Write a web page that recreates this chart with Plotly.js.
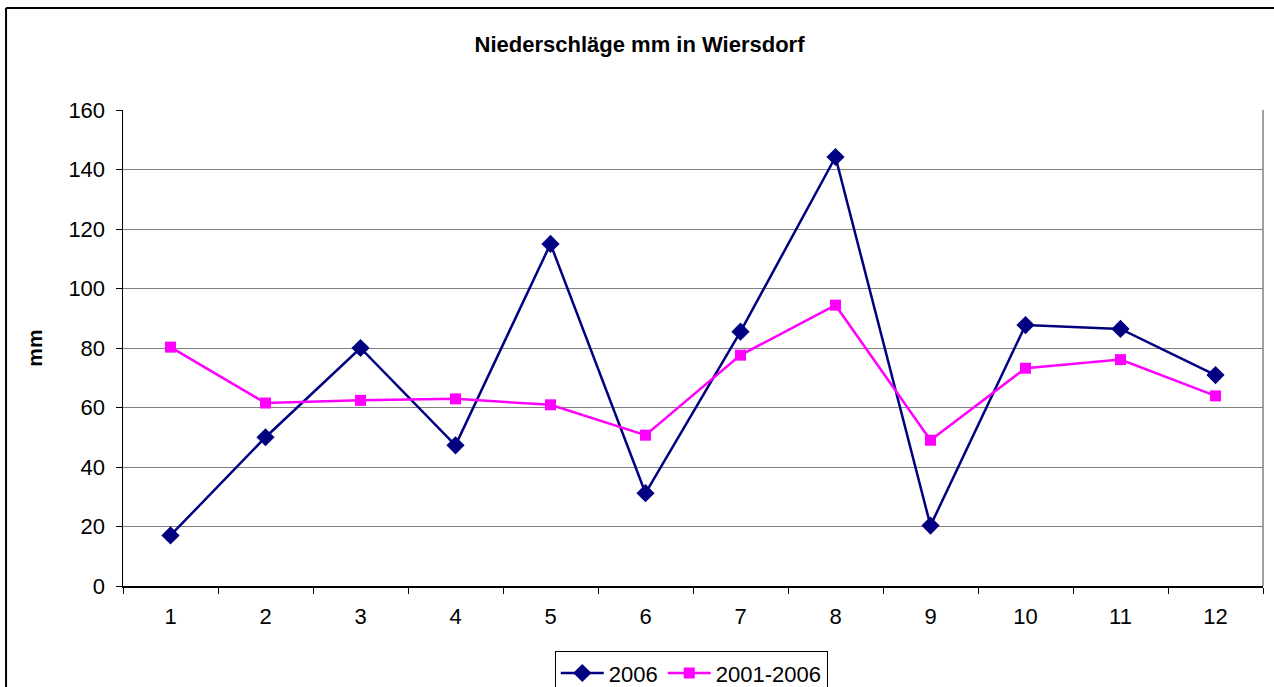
<!DOCTYPE html>
<html>
<head>
<meta charset="utf-8">
<script src="https://cdn.plot.ly/plotly-3.0.1.min.js"></script>
<style>
html,body{margin:0;padding:0;background:#fff;}
#chart{width:1274px;height:687px;}
</style>
</head>
<body>
<div id="chart"></div>
<script>
var months = ["1","2","3","4","5","6","7","8","9","10","11","12"];
var values2006 = [17, 50, 80, 47.3, 115, 31.2, 85.5, 144.2, 20.3, 87.7, 86.4, 70.9];
var valuesAvg = [80.3, 61.5, 62.4, 62.9, 60.9, 50.7, 77.6, 94.4, 49, 73.2, 76.1, 63.9];
var yTicks = [0, 20, 40, 60, 80, 100, 120, 140, 160];

var font = "Liberation Sans, Arial, sans-serif";

var traces = [
  {
    x: months, y: values2006, name: "2006", type: "scatter", mode: "lines+markers",
    line: {color: "#000080", width: 2.5},
    marker: {symbol: "diamond", size: 14, color: "#000080"}
  },
  {
    x: months, y: valuesAvg, name: "2001-2006", type: "scatter", mode: "lines+markers",
    line: {color: "#FF00FF", width: 2.5},
    marker: {symbol: "square", size: 11, color: "#FF00FF"}
  }
];

var layout = {
  width: 1274, height: 687,
  margin: {l: 123, r: 11, t: 110, b: 101, pad: 0, autoexpand: false},
  paper_bgcolor: "#fff", plot_bgcolor: "#fff",
  font: {family: font, size: 22, color: "#000"},
  title: {text: "<b>Niederschläge mm in Wiersdorf</b>", font: {family: font, size: 22, color: "#000"},
          xref: "container", x: 0.502, yref: "container", y: 0.935, yanchor: "middle", xanchor: "center"},
  xaxis: {
    type: "category", range: [-0.5, 11.5], tickson: "boundaries", ticks: "outside", ticklen: 6, tickcolor: "#000", tickwidth: 1,
    showline: true, linecolor: "#000", linewidth: 1.5, showgrid: false, zeroline: false,
    tickfont: {family: font, size: 22}, ticklabelstandoff: 10, fixedrange: true
  },
  yaxis: {
    range: [0, 160], tickvals: yTicks, ticks: "outside", ticklen: 6, tickcolor: "#000", tickwidth: 1,
    showline: true, linecolor: "#000", linewidth: 1.5, showgrid: true, gridcolor: "#808080", gridwidth: 1,
    zeroline: false, tickfont: {family: font, size: 22}, ticklabelstandoff: 6,
    title: {text: "<b>mm</b>", font: {family: font, size: 21}, standoff: 20}
  },
  showlegend: true,
  legend: {
    orientation: "h", x: 0.4985, xanchor: "center", y: -0.137, yanchor: "top",
    bordercolor: "#000", borderwidth: 1, bgcolor: "#fff",
    font: {family: font, size: 22}, itemwidth: 43, tracegroupgap: 0
  },
  shapes: [
    {type: "line", xref: "paper", yref: "paper", x0: 1, x1: 1, y0: 0, y1: 1, line: {color: "#808080", width: 1.5}},
    {type: "line", xref: "paper", yref: "paper", x0: -0.1026, x1: -0.1026, y0: -0.3, y1: 1.2143, line: {color: "#000", width: 2}},
    {type: "line", xref: "paper", yref: "paper", x0: -0.1026, x1: 1.1, y0: 1.2143, y1: 1.2143, line: {color: "#000", width: 2}}
  ]
};

Plotly.newPlot("chart", traces, layout, {displayModeBar: false, staticPlot: true});
</script>
</body>
</html>
